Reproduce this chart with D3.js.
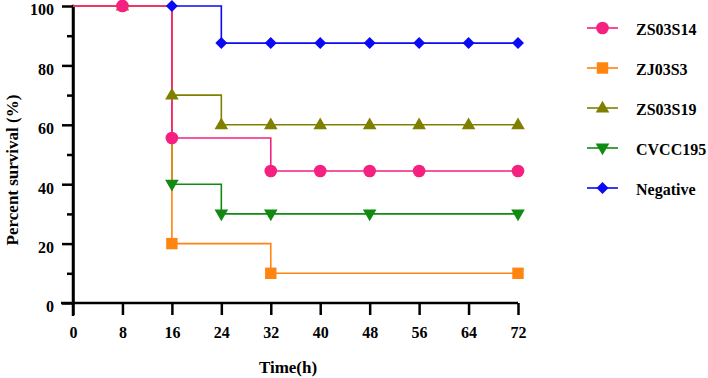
<!DOCTYPE html>
<html><head><meta charset="utf-8">
<script src="https://cdn.jsdelivr.net/npm/d3@7"></script>
<style>body{margin:0;background:#fff}svg{display:block}text{font-family:'Liberation Serif','DejaVu Serif',serif;font-weight:bold;fill:#000}</style>
</head><body><svg id="c" width="708" height="378"></svg>
<script>
const seriesNames = ["ZS03S14","ZJ03S3","ZS03S19","CVCC195","Negative"];
const seriesColors = ["#F5207F","#FF8410","#808000","#108A10","#0A0AF5"];
const seriesShapes = ["circle","square","triangle","triangleDown","diamond"];
// step curves: [time, survival]
const curveZS03S14 = [[0,100],[16,100],[16,55.56],[32,55.56],[32,44.44],[72,44.44]];
const curveZJ03S3 = [[0,100],[16,100],[16,20],[32,20],[32,10],[72,10]];
const curveZS03S19 = [[0,100],[16,100],[16,70],[24,70],[24,60],[72,60]];
const curveCVCC195 = [[0,100],[16,100],[16,40],[24,40],[24,30],[72,30]];
const curveNegative = [[0,100],[24,100],[24,87.5],[72,87.5]];
// marker (censor) points
const pointsZS03S14 = [[8,100],[16,55.56],[32,44.44],[40,44.44],[48,44.44],[56,44.44],[72,44.44]];
const pointsZJ03S3 = [[16,20],[32,10],[72,10]];
const pointsZS03S19 = [[8,100],[16,70],[24,60],[32,60],[40,60],[48,60],[56,60],[64,60],[72,60]];
const pointsCVCC195 = [[16,40],[24,30],[32,30],[48,30],[72,30]];
const pointsNegative = [[16,100],[24,87.5],[32,87.5],[40,87.5],[48,87.5],[56,87.5],[64,87.5],[72,87.5]];
const xTicks = [0,8,16,24,32,40,48,56,64,72];
const yTicks = [0,20,40,60,80,100];
const yMinorTicks = [10,30,50,70,90];

const curves = [curveZS03S14,curveZJ03S3,curveZS03S19,curveCVCC195,curveNegative];
const points = [pointsZS03S14,pointsZJ03S3,pointsZS03S19,pointsCVCC195,pointsNegative];

const FONT = "'Liberation Serif','DejaVu Serif',serif";
const svg = d3.select("#c");
const x = d3.scaleLinear().domain([0,72]).range([73,518]);
const y = d3.scaleLinear().domain([0,100]).range([303,6]);

function marker(g, shape, color, cx, cy){
  let type, size, t = `translate(${cx},${cy})`;
  if(shape==="circle"){type=d3.symbolCircle;size=125;}
  else if(shape==="square"){type=d3.symbolSquare;size=130;}
  else if(shape==="triangle"){type=d3.symbolTriangle;size=80;t+=" translate(0,0.5)";}
  else if(shape==="triangleDown"){type=d3.symbolTriangle;size=80;t+=" translate(0,-0.5) rotate(180)";}
  else {type=d3.symbolSquare;size=72;t+=" rotate(45)";}
  g.append("path").attr("d", d3.symbol().type(type).size(size)()).attr("fill", color).attr("transform", t);
}

// axes
const xAxis = svg.append("g").attr("transform","translate(0,303)")
  .call(d3.axisBottom(x).tickValues(xTicks).tickSize(12).tickPadding(12).tickSizeOuter(0));
const yAxis = svg.append("g").attr("transform","translate(73,0)")
  .call(d3.axisLeft(y).tickValues(yTicks).tickSize(11).tickPadding(8).tickSizeOuter(0));
svg.append("g").attr("transform","translate(73,0)")
  .call(d3.axisLeft(y).tickValues(yMinorTicks).tickSize(6).tickFormat("").tickSizeOuter(0));
svg.selectAll(".domain").attr("stroke","#000").attr("stroke-width",2.5);
svg.selectAll(".tick line").attr("stroke","#000").attr("stroke-width",2.5);
svg.selectAll(".tick text").attr("font-size",16).attr("font-family",FONT).attr("font-weight","bold");
xAxis.select(".domain").attr("d","M61,0H518");
yAxis.select(".domain").attr("d","M0,4.8V316");
yAxis.selectAll(".tick text").attr("dy","0.55em");

// lines (drawn bottom-first)
const line = d3.line().x(d=>x(d[0])).y(d=>y(d[1]));
const order = [4,3,2,1,0];
const gl = svg.append("g");
order.forEach(i=>{
  gl.append("path").attr("d", line(curves[i])).attr("fill","none")
    .attr("stroke", seriesColors[i]).attr("stroke-width",1.6);
});
const gm = svg.append("g");
order.forEach(i=>{
  points[i].forEach(p=>marker(gm, seriesShapes[i], seriesColors[i], x(p[0]), y(p[1])));
});

// axis titles
svg.append("text").attr("x",288).attr("y",373).attr("text-anchor","middle").attr("font-size",17).attr("font-family",FONT).text("Time(h)");
svg.append("text").attr("transform","translate(18,170) rotate(-90)").attr("text-anchor","middle").attr("font-size",17).attr("font-family",FONT).text("Percent survival (%)");

// legend
const lg = svg.append("g");
seriesNames.forEach((n,i)=>{
  const cy = 28 + i*40;
  lg.append("line").attr("x1",587).attr("x2",618).attr("y1",cy).attr("y2",cy)
    .attr("stroke",seriesColors[i]).attr("stroke-width",1.6);
  marker(lg, seriesShapes[i], seriesColors[i], 602.5, cy);
  lg.append("text").attr("x",636).attr("y",cy+6.5).attr("font-size",16).attr("font-family",FONT).text(n);
});
</script></body></html>
